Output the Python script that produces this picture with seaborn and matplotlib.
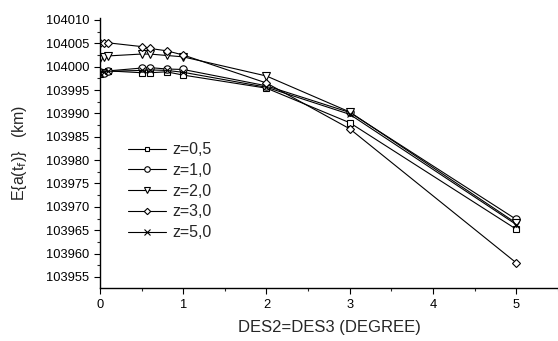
import matplotlib
matplotlib.use("Agg")
import matplotlib.pyplot as plt
import seaborn as sns
import pandas as pd
from matplotlib.ticker import MultipleLocator

x_deg = [0, 0.05, 0.1, 0.5, 0.6, 0.8, 1.0, 2, 3, 5]
z05 = [103998.4, 103998.9, 103999.1, 103998.7, 103998.7, 103998.9, 103998.2, 103995.4, 103988.0, 103965.2]
z10 = [103998.9, 103998.6, 103999.1, 103999.7, 103999.8, 103999.5, 103999.4, 103995.9, 103990.2, 103967.3]
z20 = [104001.8, 104002.0, 104002.3, 104002.7, 104002.7, 104002.4, 104002.1, 103998.0, 103990.3, 103966.5]
z30 = [104005.0, 104005.0, 104005.1, 104004.3, 104003.9, 104003.4, 104002.5, 103996.5, 103986.7, 103958.0]
z50 = [103998.6, 103998.8, 103999.0, 103999.2, 103999.3, 103999.2, 103998.8, 103995.6, 103989.8, 103966.2]
labels = ["z=0,5", "z=1,0", "z=2,0", "z=3,0", "z=5,0"]
series = [z05, z10, z20, z30, z50]

rows = []
for lab, vals in zip(labels, series):
    for xv, yv in zip(x_deg, vals):
        rows.append({"x": xv, "y": yv, "z": lab})
df = pd.DataFrame(rows)

sns.set_style("ticks")
plt.rcParams["font.family"] = ["Liberation Sans", "DejaVu Sans"]

fig = plt.figure(figsize=(5.58, 3.41), dpi=100)
ax = fig.add_axes([0.179, 0.155, 0.821, 0.792])

markers = {"z=0,5": "s", "z=1,0": "o", "z=2,0": "v", "z=3,0": "D", "z=5,0": "x"}
sizes = {"z=0,5": 4.8, "z=1,0": 5.3, "z=2,0": 5.8, "z=3,0": 4.3, "z=5,0": 5}
for lab in labels:
    sub = df[df["z"] == lab]
    sns.lineplot(data=sub, x="x", y="y", ax=ax, color="black", lw=0.8,
                 marker=markers[lab], markersize=sizes[lab], mfc="white",
                 mec="black", mew=0.8, label=lab, sort=False)

ax.set_xlim(0, 5.5)
ax.set_ylim(103952.6, 104010.4)
ax.xaxis.set_major_locator(MultipleLocator(1))
ax.xaxis.set_minor_locator(MultipleLocator(0.5))
ax.yaxis.set_major_locator(MultipleLocator(5))
ax.yaxis.set_minor_locator(MultipleLocator(2.5))
ax.ticklabel_format(axis="y", useOffset=False, style="plain")
ax.tick_params(which="major", direction="out", length=4, width=0.8, labelsize=9.3, colors="black")
ax.tick_params(which="minor", direction="out", length=2.5, width=0.8)
for s in ["top", "right"]:
    ax.spines[s].set_visible(False)
for s in ["left", "bottom"]:
    ax.spines[s].set_linewidth(1.0)
    ax.spines[s].set_color("black")

ax.set_xlabel("DES2=DES3 (DEGREE)", fontsize=12, labelpad=7)
ax.set_ylabel(r"E{a(t$_{\rm f}$)}   (km)", fontsize=11.5, labelpad=12)

leg = ax.legend(loc="upper left", bbox_to_anchor=(0.045, 0.57), frameon=False,
                fontsize=11.5, handlelength=2.35, labelspacing=0.36, handletextpad=0.4,
                borderpad=0, markerscale=0.75)
fig.savefig("out.png", dpi=100)
